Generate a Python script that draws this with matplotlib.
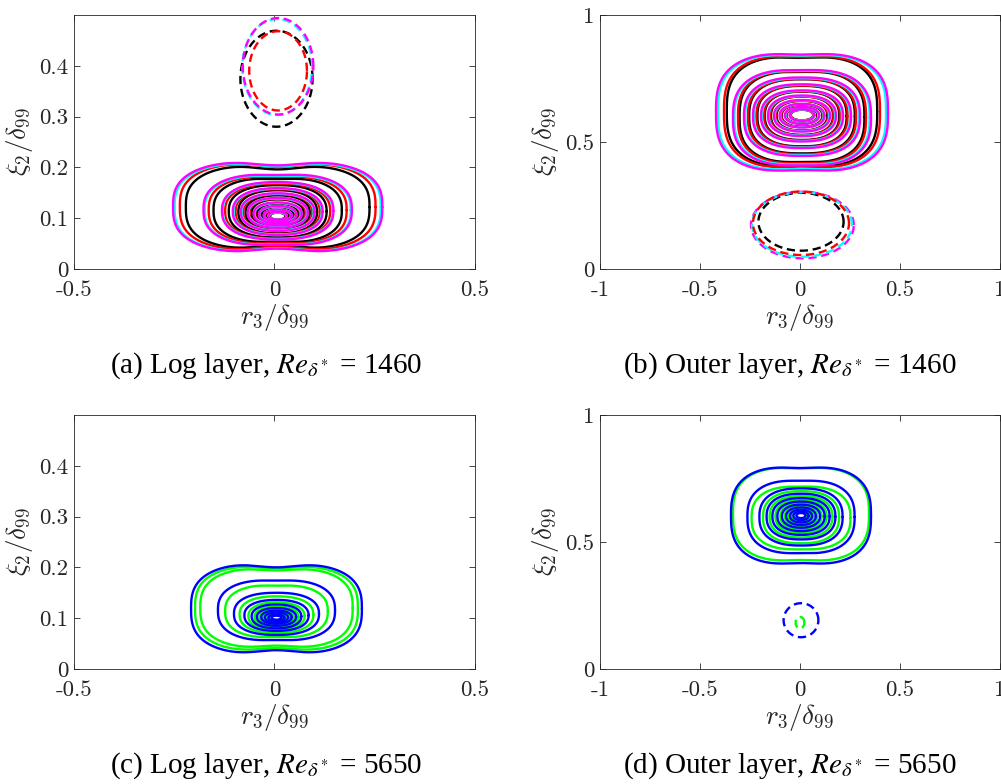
import numpy as np
import matplotlib.pyplot as plt

plt.rcParams['mathtext.fontset'] = 'cm'
plt.rcParams['axes.unicode_minus'] = False
plt.rcParams['font.family'] = 'cmr10'

# ---------------- (a) log layer, Re = 1460 ----------------
a_x0 = 0.008
a_m_hw = [0.261, 0.185, 0.139, 0.112, 0.092, 0.075, 0.060, 0.047, 0.035, 0.023]
a_m_top = [0.214, 0.188, 0.171, 0.159, 0.149, 0.140, 0.131, 0.124, 0.117, 0.112]
a_m_bot = [0.030, 0.045, 0.058, 0.067, 0.075, 0.081, 0.086, 0.090, 0.094, 0.097]
a_c_hw = [0.257, 0.182, 0.137, 0.110, 0.090, 0.073, 0.058, 0.046, 0.034, 0.022]
a_c_top = [0.212, 0.186, 0.170, 0.158, 0.148, 0.139, 0.130, 0.123, 0.117, 0.111]
a_c_bot = [0.031, 0.046, 0.059, 0.068, 0.076, 0.082, 0.087, 0.091, 0.094, 0.097]
a_r_hw = [0.244, 0.172, 0.131, 0.105, 0.086, 0.070, 0.056, 0.044, 0.032, 0.021]
a_r_top = [0.211, 0.184, 0.168, 0.157, 0.147, 0.138, 0.130, 0.123, 0.116, 0.111]
a_r_bot = [0.034, 0.048, 0.060, 0.069, 0.076, 0.082, 0.087, 0.091, 0.094, 0.097]
a_k_hw = [0.229, 0.160, 0.122, 0.098, 0.080, 0.065, 0.052, 0.040, 0.029, 0.019]
a_k_top = [0.206, 0.180, 0.165, 0.155, 0.145, 0.137, 0.129, 0.122, 0.116, 0.111]
a_k_bot = [0.037, 0.051, 0.062, 0.070, 0.077, 0.083, 0.087, 0.091, 0.094, 0.097]
a_dip = [0.010, 0.003, 0, 0, 0, 0, 0, 0, 0, 0]
# negative (dashed) contour: x0, half width, top, bottom
a_neg_k = [0.005, 0.090, 0.469, 0.280]
a_neg_r = [0.009, 0.072, 0.468, 0.312]
a_neg_c = [0.007, 0.087, 0.492, 0.303]
a_neg_m = [0.009, 0.088, 0.494, 0.304]

# ---------------- (b) outer layer, Re = 1460 ----------------
b_x0 = 0.010
b_m_hw = [0.430, 0.345, 0.290, 0.245, 0.205, 0.170, 0.140, 0.112, 0.086, 0.062]
b_m_top = [0.852, 0.786, 0.754, 0.727, 0.703, 0.683, 0.665, 0.650, 0.638, 0.629]
b_m_bot = [0.381, 0.405, 0.445, 0.476, 0.502, 0.523, 0.541, 0.557, 0.571, 0.583]
b_c_hw = [0.420, 0.338, 0.284, 0.240, 0.200, 0.166, 0.136, 0.109, 0.083, 0.060]
b_c_top = [0.848, 0.783, 0.751, 0.725, 0.701, 0.681, 0.664, 0.649, 0.637, 0.628]
b_c_bot = [0.386, 0.409, 0.448, 0.478, 0.504, 0.525, 0.543, 0.558, 0.572, 0.584]
b_r_hw = [0.390, 0.320, 0.270, 0.228, 0.190, 0.158, 0.130, 0.104, 0.080, 0.057]
b_r_top = [0.842, 0.781, 0.748, 0.722, 0.699, 0.679, 0.662, 0.648, 0.636, 0.627]
b_r_bot = [0.395, 0.414, 0.452, 0.481, 0.506, 0.527, 0.544, 0.559, 0.573, 0.585]
b_k_hw = [0.376, 0.312, 0.264, 0.223, 0.186, 0.155, 0.127, 0.102, 0.078, 0.056]
b_k_top = [0.839, 0.779, 0.747, 0.721, 0.698, 0.679, 0.662, 0.647, 0.636, 0.627]
b_k_bot = [0.400, 0.418, 0.455, 0.483, 0.508, 0.528, 0.545, 0.560, 0.573, 0.585]
b_dip = [0.008, 0.003, 0, 0, 0, 0, 0, 0, 0, 0]
b_neg_k = [0.005, 0.213, 0.300, 0.072]
b_neg_r = [0.005, 0.240, 0.305, 0.055]
b_neg_c = [0.010, 0.250, 0.302, 0.048]
b_neg_m = [0.012, 0.257, 0.304, 0.042]

# ---------------- (c) log layer, Re = 5650 ----------------
c_x0 = 0.005
c_g_hw = [0.203, 0.190, 0.128, 0.092, 0.070, 0.055, 0.043, 0.033, 0.024, 0.016]
c_g_top = [0.205, 0.200, 0.166, 0.143, 0.131, 0.123, 0.117, 0.112, 0.108, 0.105]
c_g_bot = [0.034, 0.040, 0.061, 0.071, 0.077, 0.082, 0.087, 0.090, 0.093, 0.096]
c_g_dip = [0.007, 0.006, 0.002, 0, 0, 0, 0, 0, 0, 0]
c_b_hw = [0.213, 0.146, 0.106, 0.080, 0.062, 0.049, 0.038, 0.029, 0.020, 0.012]
c_b_top = [0.209, 0.176, 0.150, 0.136, 0.127, 0.120, 0.115, 0.111, 0.107, 0.105]
c_b_bot = [0.028, 0.055, 0.067, 0.075, 0.080, 0.085, 0.089, 0.092, 0.095, 0.097]
c_b_dip = [0.009, 0.002, 0, 0, 0, 0, 0, 0, 0, 0]

# ---------------- (d) outer layer, Re = 5650 ----------------
d_x0 = 0.005
d_g_hw = [0.340, 0.247, 0.190, 0.157, 0.128, 0.103, 0.081, 0.062, 0.045, 0.028]
d_g_top = [0.797, 0.720, 0.700, 0.681, 0.666, 0.653, 0.641, 0.631, 0.623, 0.617]
d_g_bot = [0.422, 0.469, 0.495, 0.518, 0.535, 0.549, 0.561, 0.572, 0.581, 0.590]
d_g_dip = [0.007, 0.002, 0, 0, 0, 0, 0, 0, 0, 0]
d_b_hw = [0.350, 0.268, 0.208, 0.172, 0.143, 0.118, 0.095, 0.074, 0.055, 0.038, 0.022]
d_b_top = [0.799, 0.744, 0.711, 0.690, 0.673, 0.659, 0.647, 0.636, 0.627, 0.620, 0.614]
d_b_bot = [0.409, 0.453, 0.486, 0.510, 0.528, 0.543, 0.556, 0.567, 0.577, 0.586, 0.594]
d_b_dip = [0.008, 0.003, 0, 0, 0, 0, 0, 0, 0, 0, 0]
d_neg_b = [0.005, 0.087, 0.259, 0.125]
d_neg_g = [0.000, 0.022, 0.205, 0.160]

captions = [r'(a) Log layer, $Re_{\delta^*}$ = 1460',
            r'(b) Outer layer, $Re_{\delta^*}$ = 1460',
            r'(c) Log layer, $Re_{\delta^*}$ = 5650',
            r'(d) Outer layer, $Re_{\delta^*}$ = 5650']

BLACK, RED, CYAN, MAGENTA = '#000000', '#ff0000', '#00ffff', '#ff00ff'
BLUE, GREEN = '#0000ff', '#00ff00'
LW = 1.7


def closed_curve(x0, hw, top, bot, dip, p):
    t = np.linspace(0, 2 * np.pi, 500)
    c, s = np.cos(t), np.sin(t)
    xn = np.sign(c) * np.abs(c) ** (2 / p)
    yn = np.sign(s) * np.abs(s) ** (2 / p)
    x = x0 + hw * xn
    y = (top + bot) / 2 + (top - bot) / 2 * yn - dip * yn * np.exp(-(xn / 0.35) ** 2)
    return x, y


def draw_family(ax, x0, hw, top, bot, dip, color, p_out):
    for i in range(len(hw)):
        p = 2 + (p_out - 2) * (hw[i] / hw[0])
        x, y = closed_curve(x0, hw[i], top[i], bot[i], dip[i], p)
        ax.plot(x, y, color=color, lw=LW, solid_capstyle='round')


def draw_neg(ax, neg, color):
    x, y = closed_curve(neg[0], neg[1], neg[2], neg[3], 0, 2)
    ax.plot(x, y, color=color, lw=LW, ls=(0, (3.5, 2.0)))


def style(ax, xlim, ylim, xt, xtl, yt, ytl):
    ax.set_xlim(xlim)
    ax.set_ylim(ylim)
    ax.set_xticks(xt)
    ax.set_xticklabels(xtl)
    ax.set_yticks(yt)
    ax.set_yticklabels(ytl)
    ax.tick_params(direction='in', top=True, right=True, length=4, width=0.6,
                   labelsize=16.5, colors='#262626')
    ax.tick_params(axis='x', pad=8)
    ax.tick_params(axis='y', pad=4)
    for sp in ax.spines.values():
        sp.set_linewidth(0.6)
        sp.set_color('#262626')
    ax.set_xlabel(r'$r_3/\delta_{99}$', fontsize=19.5, labelpad=2, color='#262626')
    ax.set_ylabel(r'$\xi_2/\delta_{99}$', fontsize=19.5, labelpad=3, color='#262626')


fig = plt.figure(figsize=(10.01, 7.84), dpi=100)
axa = fig.add_axes([0.0739, 0.6569, 0.4006, 0.3240])
axb = fig.add_axes([0.5994, 0.6569, 0.3996, 0.3240])
axc = fig.add_axes([0.0739, 0.1467, 0.4006, 0.3240])
axd = fig.add_axes([0.5994, 0.1467, 0.3996, 0.3240])

# (a)
draw_family(axa, a_x0, a_k_hw, a_k_top, a_k_bot, a_dip, BLACK, 2.8)
draw_family(axa, a_x0, a_r_hw, a_r_top, a_r_bot, a_dip, RED, 2.8)
draw_family(axa, a_x0, a_c_hw, a_c_top, a_c_bot, a_dip, CYAN, 2.8)
draw_family(axa, a_x0, a_m_hw, a_m_top, a_m_bot, a_dip, MAGENTA, 2.8)
draw_neg(axa, a_neg_k, BLACK)
draw_neg(axa, a_neg_c, CYAN)
draw_neg(axa, a_neg_m, MAGENTA)
draw_neg(axa, a_neg_r, RED)
style(axa, (-0.5, 0.5), (0, 0.5), [-0.5, 0, 0.5], ['-0.5', '0', '0.5'],
      [0, 0.1, 0.2, 0.3, 0.4], ['0', '0.1', '0.2', '0.3', '0.4'])

# (b)
draw_family(axb, b_x0, b_k_hw, b_k_top, b_k_bot, b_dip, BLACK, 2.9)
draw_family(axb, b_x0, b_r_hw, b_r_top, b_r_bot, b_dip, RED, 2.9)
draw_family(axb, b_x0, b_c_hw, b_c_top, b_c_bot, b_dip, CYAN, 2.9)
draw_family(axb, b_x0, b_m_hw, b_m_top, b_m_bot, b_dip, MAGENTA, 2.9)
draw_neg(axb, b_neg_k, BLACK)
draw_neg(axb, b_neg_m, MAGENTA)
draw_neg(axb, b_neg_c, CYAN)
draw_neg(axb, b_neg_r, RED)
style(axb, (-1, 1), (0, 1), [-1, -0.5, 0, 0.5, 1], ['-1', '-0.5', '0', '0.5', '1'],
      [0, 0.5, 1], ['0', '0.5', '1'])

# (c)
draw_family(axc, c_x0, c_g_hw, c_g_top, c_g_bot, c_g_dip, GREEN, 2.8)
draw_family(axc, c_x0, c_b_hw, c_b_top, c_b_bot, c_b_dip, BLUE, 2.8)
style(axc, (-0.5, 0.5), (0, 0.5), [-0.5, 0, 0.5], ['-0.5', '0', '0.5'],
      [0, 0.1, 0.2, 0.3, 0.4], ['0', '0.1', '0.2', '0.3', '0.4'])

# (d)
draw_family(axd, d_x0, d_g_hw, d_g_top, d_g_bot, d_g_dip, GREEN, 2.8)
draw_family(axd, d_x0, d_b_hw, d_b_top, d_b_bot, d_b_dip, BLUE, 2.8)
draw_neg(axd, d_neg_b, BLUE)
draw_neg(axd, d_neg_g, GREEN)
style(axd, (-1, 1), (0, 1), [-1, -0.5, 0, 0.5, 1], ['-1', '-0.5', '0', '0.5', '1'],
      [0, 0.5, 1], ['0', '0.5', '1'])

cap_pos = [(0.266, 0.533), (0.789, 0.533), (0.266, 0.023), (0.789, 0.023)]
for (cx, cy), txt in zip(cap_pos, captions):
    fig.text(cx, cy, txt, ha='center', va='center', fontsize=21,
             family='Liberation Serif', math_fontfamily='stix')

fig.savefig('out.png', dpi=100)
